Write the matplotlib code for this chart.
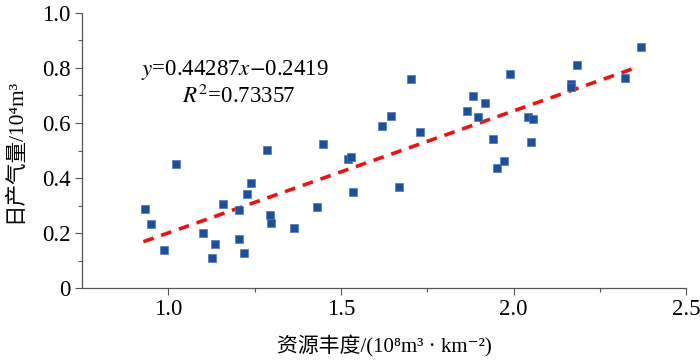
import numpy as np
import matplotlib
matplotlib.use('Agg')
import matplotlib.pyplot as plt

# resource abundance (1e8 m3/km2) vs daily gas output (1e4 m3)
abund = [0.933, 0.949, 0.989, 1.023, 1.101, 1.136, 1.128, 1.158, 1.206, 1.206,
         1.219, 1.228, 1.240, 1.285, 1.294, 1.298, 1.363, 1.430, 1.449, 1.520,
         1.528, 1.536, 1.618, 1.646, 1.668, 1.702, 1.729, 1.866, 1.882, 1.896,
         1.916, 1.940, 1.953, 1.972, 1.988, 2.040, 2.055, 2.049, 2.166, 2.166,
         2.184, 2.321, 2.369]
output = [0.287, 0.234, 0.139, 0.450, 0.202, 0.162, 0.111, 0.307, 0.284, 0.180,
          0.129, 0.342, 0.382, 0.502, 0.266, 0.236, 0.220, 0.295, 0.525, 0.470,
          0.476, 0.349, 0.590, 0.625, 0.369, 0.761, 0.568, 0.644, 0.698, 0.622,
          0.672, 0.543, 0.437, 0.463, 0.778, 0.620, 0.614, 0.530, 0.741, 0.731,
          0.810, 0.763, 0.877]

slope = 0.44287
icpt = -0.2419
fit_x = [0.928, 2.363]

plt.rcParams['font.family'] = ['Liberation Serif', 'Noto Sans CJK SC', 'DejaVu Serif']
plt.rcParams['mathtext.fontset'] = 'stix'

fig = plt.figure(figsize=(7, 3.61), dpi=100)
ax = fig.add_axes([0.117, 0.2014, 0.8636, 0.7634])

ax.scatter(abund, output, marker='s', s=36, color='#1B4FA0', edgecolors='#5577bb',
           linewidths=0.5, zorder=3)
fx = np.array(fit_x)
ax.plot(fx, slope * fx + icpt, color='#EE1111', lw=2.6, ls=(0, (3, 2.2)), zorder=2)

ax.set_xlim(0.75, 2.5)
ax.set_ylim(0, 1.0)
ax.set_xticks([1.0, 1.5, 2.0, 2.5])
ax.set_xticks([1.25, 1.75, 2.25], minor=True)
ax.set_yticks([0, 0.2, 0.4, 0.6, 0.8, 1.0])
ax.set_yticklabels(['0', '0.2', '0.4', '0.6', '0.8', '1.0'])
ax.set_yticks([0.1, 0.3, 0.5, 0.7, 0.9], minor=True)
ax.tick_params(axis='both', which='major', length=5, width=0.8, labelsize=16.5,
               color='#555555', pad=3)
ax.tick_params(axis='both', which='minor', length=3, width=0.8, color='#555555')
for s in ['top', 'right']:
    ax.spines[s].set_visible(False)
for s in ['left', 'bottom']:
    ax.spines[s].set_color('#555555')
    ax.spines[s].set_linewidth(0.9)

ax.set_xlabel('资源丰度/(10⁸m³ · km⁻²)', fontsize=15, labelpad=11)
ax.set_ylabel('日产气量/10⁴m³', fontsize=15.5, labelpad=12)

ax.text(0.922, 0.774, r'$y$=0.44287$x$$-$0.2419', fontsize=16.5)
ax.text(1.04, 0.672, r'$R^2$=0.73357', fontsize=16.5)

fig.savefig('out.png', dpi=100)
